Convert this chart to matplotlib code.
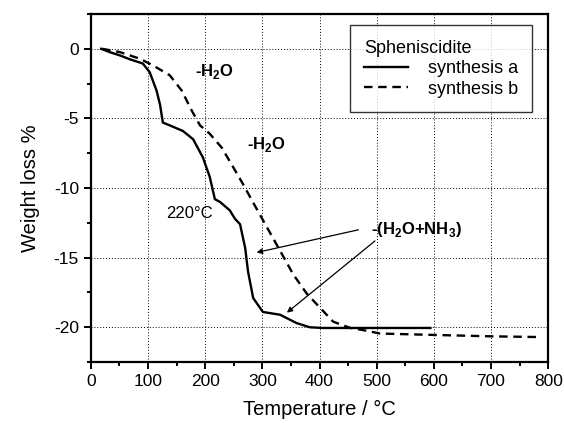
import matplotlib
matplotlib.use("Agg")
import matplotlib.pyplot as plt
from matplotlib.ticker import MultipleLocator

plt.rcParams['font.family'] = ['Liberation Sans', 'DejaVu Sans']
plt.rcParams['axes.unicode_minus'] = False
plt.rcParams['mathtext.fontset'] = 'custom'
plt.rcParams['mathtext.rm'] = 'Liberation Sans'
plt.rcParams['mathtext.bf'] = 'Liberation Sans:bold'

# TGA curves of spheniscidite (temperature in °C, weight loss in %)
temp_a = [18, 33, 51, 68, 91, 103, 115, 121, 126, 138, 161, 179, 196, 208,
          217, 226, 243, 252, 261, 270, 275, 284, 301, 331, 360, 383, 406,
          500, 594]
loss_a = [0, -0.24, -0.48, -0.75, -1.06, -1.68, -3.0, -4.0, -5.3, -5.5, -5.9,
          -6.5, -7.8, -9.2, -10.8, -11.0, -11.6, -12.2, -12.6, -14.3, -16.0,
          -17.9, -18.9, -19.1, -19.7, -20.0, -20.05, -20.05, -20.05]

temp_b = [20, 51, 86, 109, 138, 159, 176, 191, 208, 229, 249, 266, 282, 301,
          331, 354, 378, 401, 424, 454, 476, 506, 600, 700, 781]
loss_b = [0, -0.24, -0.72, -1.2, -1.9, -3.0, -4.4, -5.5, -6.1, -7.1, -8.5,
          -9.7, -10.9, -12.3, -14.5, -16.2, -17.6, -18.6, -19.6, -20.05, -20.2,
          -20.45, -20.55, -20.65, -20.7]

fig = plt.figure(figsize=(5.64, 4.23), dpi=100)
ax = fig.add_axes([0.161, 0.144, 0.811, 0.823])

ax.plot(temp_a, loss_a, color='black', lw=1.7, label='synthesis a')
ax.plot(temp_b, loss_b, color='black', lw=1.7, ls=(0, (3.6, 2.4)),
        label='synthesis b')

ax.set_xlim(0, 800)
ax.set_ylim(-22.5, 2.5)
ax.xaxis.set_major_locator(MultipleLocator(100))
ax.xaxis.set_minor_locator(MultipleLocator(50))
ax.yaxis.set_major_locator(MultipleLocator(5))
ax.yaxis.set_minor_locator(MultipleLocator(2.5))
ax.tick_params(which='both', direction='out', width=1.4, labelsize=12.5,
               top=False, right=False)
ax.tick_params(which='major', length=5)
ax.tick_params(which='minor', length=3)
for s in ax.spines.values():
    s.set_linewidth(1.6)
ax.grid(True, which='major', ls=(0, (1, 2)), color='black', lw=0.7)

ax.set_xlabel('Temperature / °C', fontsize=14.5, labelpad=8)
ax.set_ylabel('Weight loss %', fontsize=14.5, labelpad=10)

ax.text(217, -1.6, r'-H$_\mathbf{2}$O', fontsize=12, fontweight='bold',
        ha='center', va='center')
ax.text(308, -6.9, r'-H$_\mathbf{2}$O', fontsize=12, fontweight='bold',
        ha='center', va='center')
ax.text(173, -11.8, '220°C', fontsize=12, ha='center', va='center')
ax.text(490, -13.0, r'-(H$_\mathbf{2}$O+NH$_\mathbf{3}$)', fontsize=12,
        fontweight='bold', ha='left', va='center')

arrow = dict(arrowstyle='-|>', color='black', lw=0.9, mutation_scale=8,
             shrinkA=0, shrinkB=0)
ax.annotate('', xy=(290, -14.63), xytext=(468, -13.0), arrowprops=arrow)
ax.annotate('', xy=(343, -18.95), xytext=(497, -13.8), arrowprops=arrow)

leg = ax.legend(title='Spheniscidite', loc='upper right', fontsize=13,
                title_fontsize=13, frameon=True, fancybox=False,
                edgecolor='black', handlelength=2.4, handletextpad=1.1,
                labelspacing=0.2, borderpad=0.8, borderaxespad=0,
                bbox_to_anchor=(0.965, 0.968))
leg.get_frame().set_linewidth(1.0)
leg._legend_box.align = 'left'

fig.savefig('out.png', dpi=100)
